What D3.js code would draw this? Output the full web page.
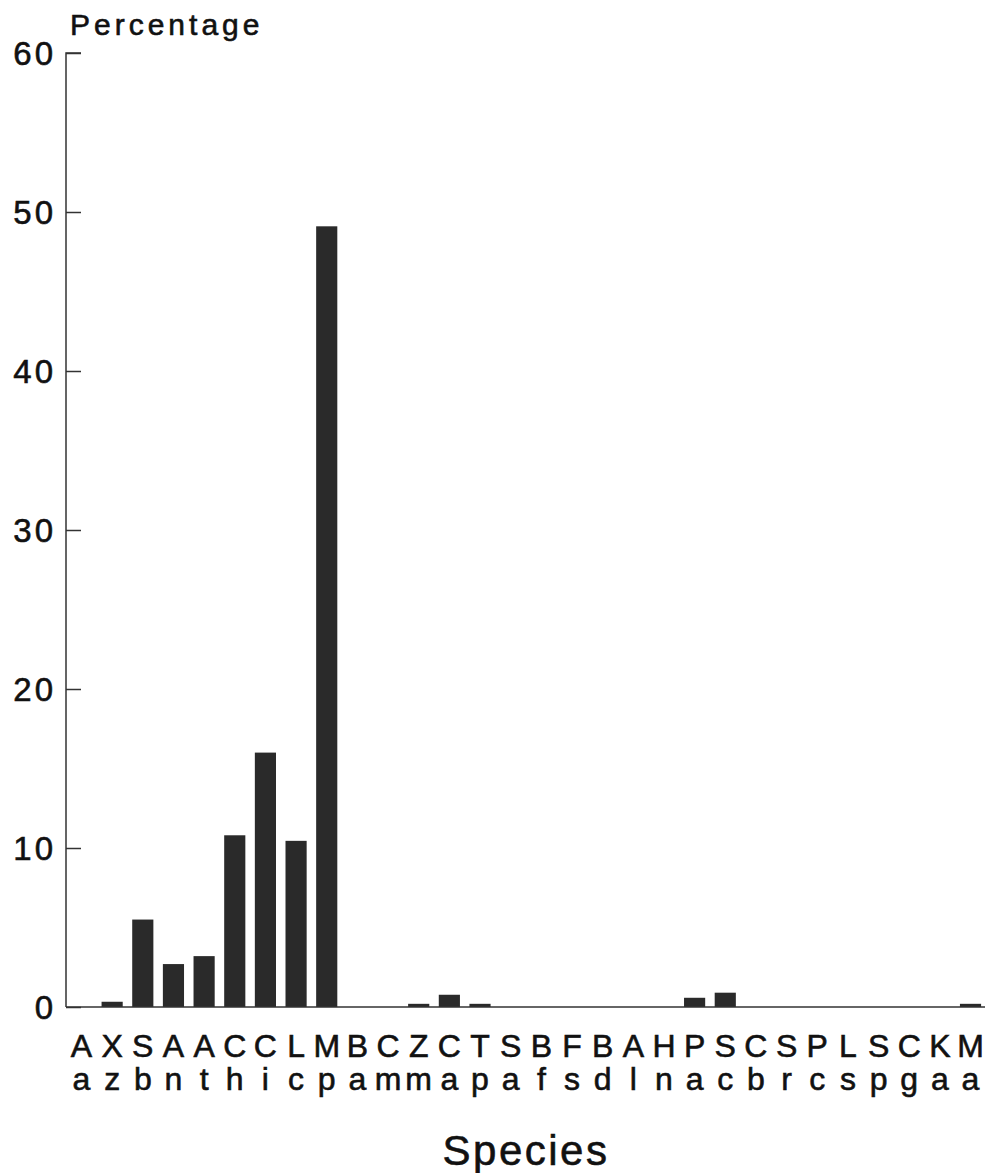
<!DOCTYPE html>
<html>
<head>
<meta charset="utf-8">
<script src="https://cdn.jsdelivr.net/npm/d3@7"></script>
<style>
  body { margin: 0; background: #fff; }
  svg { display: block; font-family: "Liberation Sans", Arial, sans-serif; }
  text { stroke: #111; stroke-width: 0.6px; }
</style>
</head>
<body>
<div id="chart"></div>
<script>
// species codes, two letters each (genus initial / species initial)
const genus   = ["A","X","S","A","A","C","C","L","M","B","C","Z","C","T","S","B","F","B","A","H","P","S","C","S","P","L","S","C","K","M"];
const species = ["a","z","b","n","t","h","i","c","p","a","m","m","a","p","a","f","s","d","l","n","a","c","b","r","c","s","p","g","a","a"];
const percentage = [0, 0.33, 5.5, 2.7, 3.2, 10.8, 16.0, 10.45, 49.1, 0, 0, 0.2, 0.77, 0.2, 0, 0, 0, 0, 0, 0, 0.58, 0.9, 0, 0, 0, 0, 0, 0, 0, 0.2];
const yTicks = [0, 10, 20, 30, 40, 50, 60];

const width = 991, height = 1173;
const margin = {top: 53, right: 5, bottom: 166, left: 66};

const data = genus.map((g, i) => ({ key: i, g: g, s: species[i], value: percentage[i] }));

const svg = d3.select("#chart").append("svg")
    .attr("width", width)
    .attr("height", height);

const x = d3.scaleBand()
    .domain(data.map(d => d.key))
    .range([margin.left, width - margin.right])
    .paddingInner(0.31)
    .paddingOuter(0.16);

const y = d3.scaleLinear()
    .domain([0, 60])
    .range([height - margin.bottom, margin.top]);

// bars
svg.append("g")
  .selectAll("rect")
  .data(data.filter(d => d.value > 0))
  .join("rect")
    .attr("x", d => x(d.key))
    .attr("y", d => y(d.value))
    .attr("width", x.bandwidth())
    .attr("height", d => y(0) - y(d.value))
    .attr("fill", "#2a2a2a");

// y axis, ticks pointing inward
const yAxis = svg.append("g")
    .attr("transform", `translate(${margin.left},0)`)
    .call(d3.axisRight(y).tickValues(yTicks).tickSize(15).tickFormat(""));
yAxis.select(".domain").attr("d", `M15,${y(60)}H0V${y(0)}`).attr("stroke", "#333").attr("stroke-width", 1.5);
yAxis.selectAll(".tick line").attr("stroke", "#333").attr("stroke-width", 1.5);

svg.append("g")
  .selectAll("text")
  .data(yTicks)
  .join("text")
    .attr("x", margin.left - 10)
    .attr("y", d => y(d) + 12)
    .attr("text-anchor", "end")
    .attr("font-size", 33)
    .attr("letter-spacing", 3)
    .attr("fill", "#111")
    .text(d => d);

// x baseline
svg.append("line")
    .attr("x1", margin.left)
    .attr("x2", width - margin.right - 1)
    .attr("y1", y(0))
    .attr("y2", y(0))
    .attr("stroke", "#333")
    .attr("stroke-width", 1.5);

// category labels, two rows
const lab = svg.append("g")
    .attr("text-anchor", "middle")
    .attr("font-size", 32)
    .attr("fill", "#111");
lab.selectAll("text.g")
  .data(data)
  .join("text")
    .attr("class", "g")
    .attr("x", d => x(d.key) + x.bandwidth() / 2)
    .attr("y", 1057)
    .text(d => d.g);
lab.selectAll("text.s")
  .data(data)
  .join("text")
    .attr("class", "s")
    .attr("x", d => x(d.key) + x.bandwidth() / 2)
    .attr("y", 1090)
    .text(d => d.s);

// titles
svg.append("text")
    .attr("x", 70)
    .attr("y", 35)
    .attr("font-size", 30)
    .attr("letter-spacing", 4)
    .attr("fill", "#111")
    .text("Percentage");

svg.append("text")
    .attr("x", (margin.left + width - margin.right) / 2)
    .attr("y", 1165)
    .attr("text-anchor", "middle")
    .attr("font-size", 42)
    .attr("letter-spacing", 2.5)
    .attr("fill", "#111")
    .text("Species");
</script>
</body>
</html>
